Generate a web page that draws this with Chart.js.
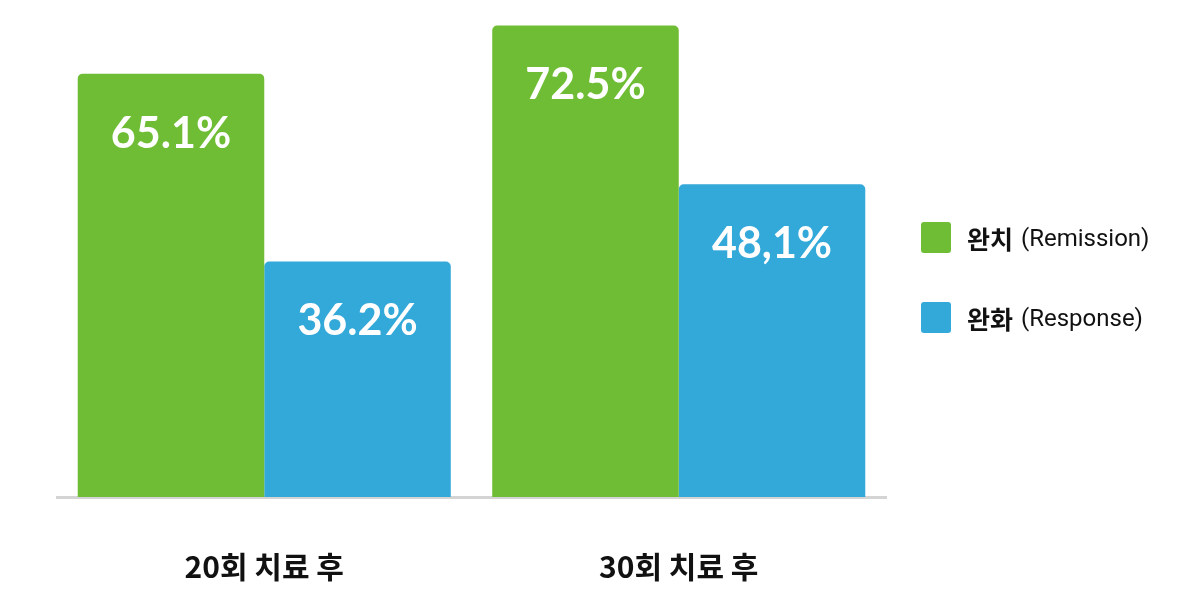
<!DOCTYPE html>
<html>
<head>
<meta charset="utf-8">
<style>
  html, body { margin: 0; padding: 0; background: #fff; overflow: hidden; }
  #wrap { width: 1200px; height: 600px; position: relative; }
</style>
<script src="https://cdn.jsdelivr.net/npm/chart.js@4"></script>
</head>
<body>
<div id="wrap"><canvas id="chart" width="1200" height="600"></canvas></div>
<script>
// Data
const categories = ['20회 치료 후', '30회 치료 후'];
const remission = [65.1, 72.5];
const response = [36.2, 48.1];
const valueLabels = [['65.1%', '72.5%'], ['36.2%', '48,1%']];
const legendNames = [['완치', ' (Remission)'], ['완화', ' (Response)']];

const GREEN = '#6fbd35';
const BLUE = '#33a9d9';
const KR_FONT = '"Noto Sans CJK KR", "Noto Sans", sans-serif';

// white value labels inside bars
const valueLabelPlugin = {
    id: 'valueLabels',
    afterDatasetsDraw(chart) {
        const ctx = chart.ctx;
        ctx.save();
        ctx.fillStyle = '#ffffff';
        ctx.font = 'bold 43px Lato, "Noto Sans", sans-serif';
        ctx.textAlign = 'center';
        ctx.textBaseline = 'middle';
        chart.data.datasets.forEach((ds, i) => {
            chart.getDatasetMeta(i).data.forEach((bar, j) => {
                ctx.fillText(valueLabels[i][j], bar.x, bar.y + 60);
            });
        });
        ctx.restore();
    }
};

// legend on the right, bold Korean + regular English
const sideLegendPlugin = {
    id: 'sideLegend',
    afterDraw(chart) {
        const ctx = chart.ctx;
        ctx.save();
        chart.data.datasets.forEach((ds, i) => {
            const y = 238 + i * 80;
            ctx.fillStyle = ds.backgroundColor;
            ctx.beginPath();
            ctx.roundRect(921, y - 16, 30, 31, 3);
            ctx.fill();
            ctx.textBaseline = 'middle';
            ctx.textAlign = 'left';
            ctx.fillStyle = '#111';
            ctx.font = 'bold 25px ' + KR_FONT;
            ctx.fillText(legendNames[i][0], 967, y + 1);
            const w = ctx.measureText(legendNames[i][0]).width;
            ctx.font = '24px Roboto, "Noto Sans", sans-serif';
            ctx.fillText(legendNames[i][1], 969 + w, y + 2);
        });
        ctx.restore();
    }
};

new Chart(document.getElementById('chart'), {
    type: 'bar',
    data: {
        labels: categories,
        datasets: [
            { label: '완치 (Remission)', data: remission, backgroundColor: GREEN },
            { label: '완화 (Response)', data: response, backgroundColor: BLUE }
        ]
    },
    options: {
        responsive: false,
        animation: false,
        categoryPercentage: 0.9,
        barPercentage: 1.0,
        borderRadius: 5,
        borderSkipped: 'bottom',
        layout: { padding: { left: 57, right: 314, top: 19, bottom: -29 } },
        plugins: {
            legend: { display: false },
            tooltip: { enabled: false }
        },
        scales: {
            y: { display: false, min: 0, max: 73.5 },
            x: {
                grid: { display: false },
                border: { display: true, color: '#d4d4d4', width: 3 },
                ticks: {
                    color: '#111',
                    padding: 44,
                    font: { family: KR_FONT, size: 30, weight: 'bold' }
                }
            }
        }
    },
    plugins: [valueLabelPlugin, sideLegendPlugin]
});
</script>
</body>
</html>
